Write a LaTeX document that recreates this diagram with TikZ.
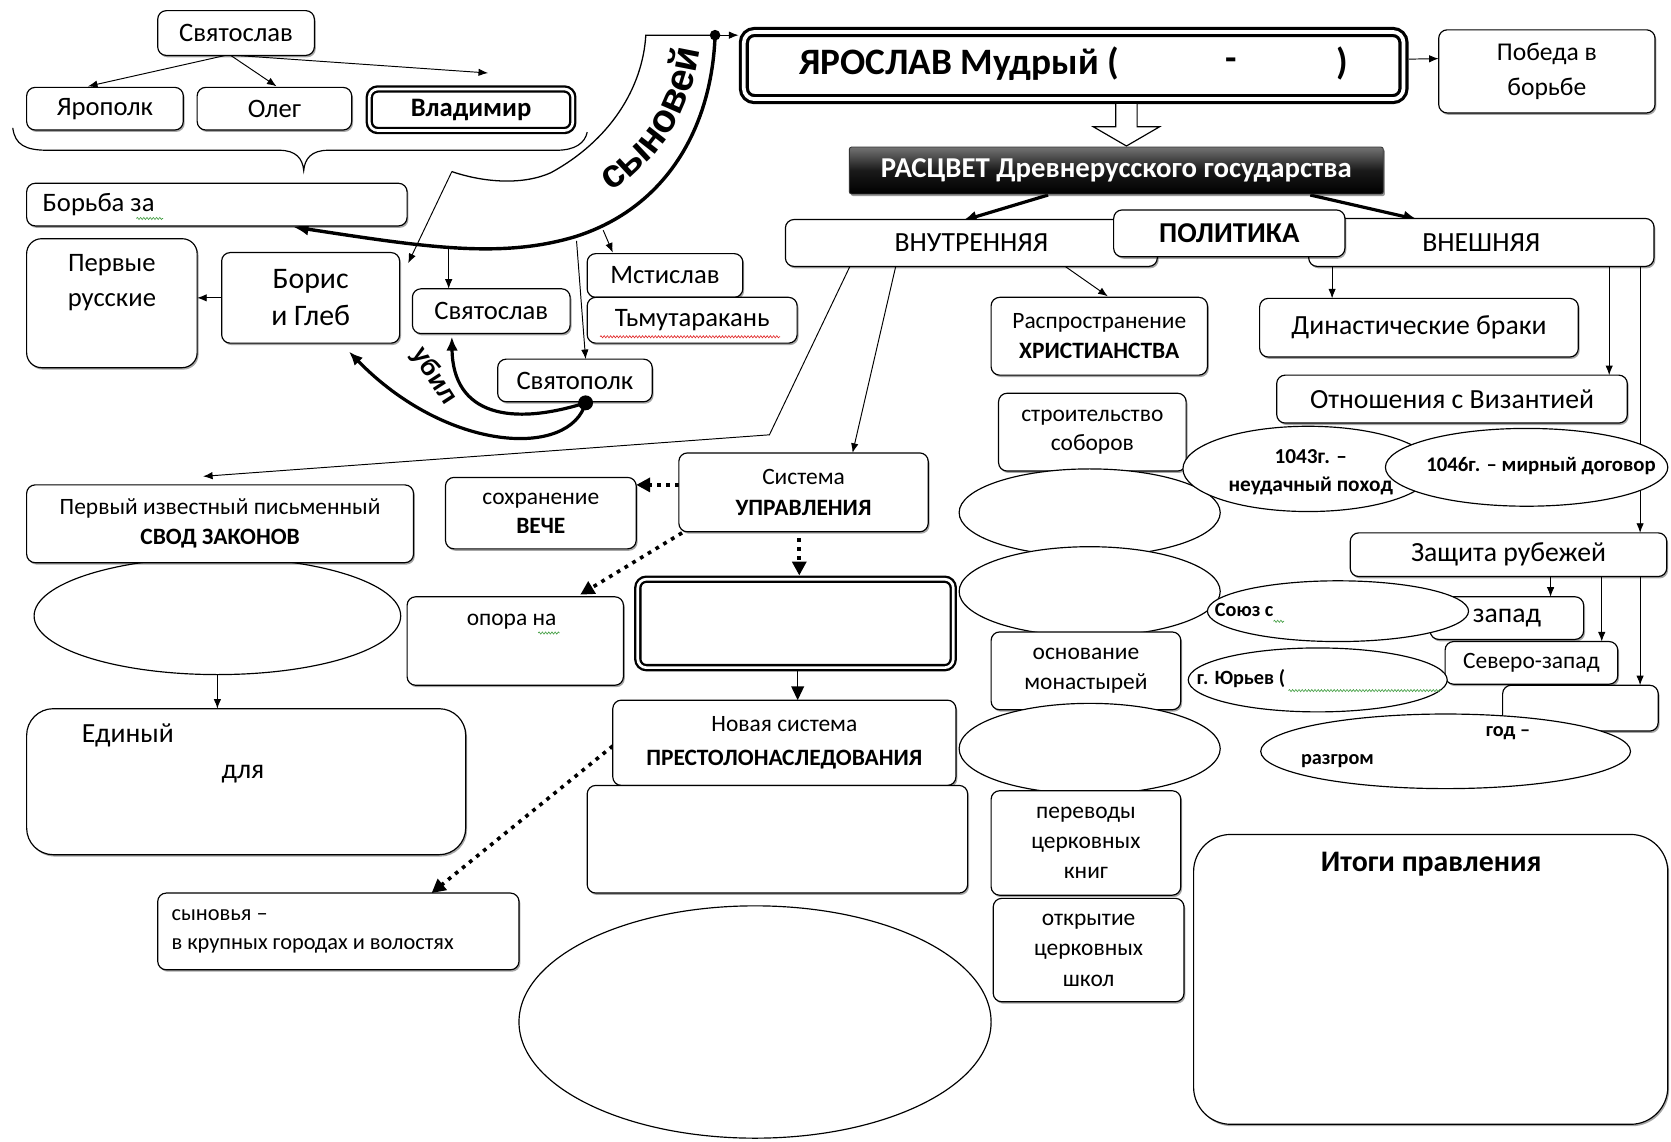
\documentclass[tikz,border=0pt]{standalone}
\usepackage{fontspec}
\setmainfont{Carlito}
\newfontfamily\arialf{Liberation Sans}
\usetikzlibrary{calc,arrows.meta,shapes.geometric,decorations.text,decorations.pathmorphing,shadows}
\pgfdeclarelayer{bg}
\pgfsetlayers{bg,main}
\newcommand\fs[2]{\fontsize{#1}{#2}\selectfont}
\definecolor{spg}{RGB}{70,160,70}
\definecolor{spr}{RGB}{225,40,40}
\newcommand\bx[6][]{\node[box,minimum width=#4pt,minimum height=#5pt,#1] (#2) at (#3) {#6};}
\newcommand\el[5][]{\node[ell,minimum width=#4pt,minimum height=#5pt,#1] (#2) at (#3) {};}
\begin{document}
\begin{tikzpicture}[x=1pt,y=-1pt,
  every node/.style={inner sep=0pt, outer sep=0pt},
  box/.style={draw, rounded corners=8pt, fill=white, line width=1.1pt, align=center, font=\fs{25}{30},
     drop shadow={shadow xshift=1.3pt, shadow yshift=-1.8pt, opacity=0.35, fill=black}},
  ell/.style={draw, ellipse, fill=white, line width=1.1pt},
  dbox/.style={draw, rounded corners=8pt, fill=white, line width=2.2pt, double=white, double distance=2.5pt},
  txt/.style={align=center},
  ar/.style={line width=0.9pt, -{Latex[length=9pt,width=7pt]}},
  thk/.style={line width=3pt, -{Latex[length=13pt,width=11pt]}},
  dotar/.style={line width=3.4pt, dash pattern=on 3.5pt off 5pt, -{Triangle[length=13pt,width=13pt]}},
  wavy/.style={line width=0.6pt, decorate, decoration={snake, amplitude=1pt, segment length=3pt}},
]
\useasboundingbox (0,0) rectangle (1568,1071);

% ---------- top-left family ----------
\bx{svyat1}{221.5,31}{147}{42}{Святослав}
\bx{yaropolk}{98.5,102}{147}{40}{Ярополк}
\bx{oleg}{257.5,102}{145}{40}{Олег}
\node[dbox, minimum width=191pt, minimum height=39pt, font=\fs{25}{30}\bfseries] (vladimir) at (442,103) {Владимир};
\bx{borba}{203.5,192}{357}{40}{}
\node[anchor=west, font=\fs{25}{30}] (tborba) at (40,192) {Борьба за};
\bx[rounded corners=14pt]{pervye}{105,284.5}{160}{121}{}
\node[txt, font=\fs{25}{33}] (tpervye) at (105,265) {Первые\\русские};
\bx[font=\fs{28}{35}]{boris}{291.5,279.5}{167}{85}{Борис\\и Глеб}
\bx{svyat2}{461,292}{148}{42}{Святослав}
\bx{mstislav}{624,258.5}{146}{41}{Мстислав}
\bx{tmu}{649.5,300.5}{197}{43}{Тьмутаракань}
\bx{svyatopolk}{539.5,357}{145}{40}{Святополк}

% ---------- Yaroslav ----------
\node[draw, rounded corners=10pt, fill=white, line width=3pt, double=white, double distance=3.5pt,
      minimum width=619pt, minimum height=63pt] (yaroslav) at (1007.5,61.5) {};
\node[anchor=west, font=\fs{35}{40}\bfseries] (tyar1) at (750,60) {ЯРОСЛАВ Мудрый (};
\node[font=\fs{35}{40}\bfseries] (tyar2) at (1155,60) {-};
\node[font=\fs{35}{40}\bfseries] (tyar3) at (1260,60) {)};
\bx[font=\fs{24}{33}]{pobeda}{1451.5,67}{203}{78}{Победа в\\борьбе}
\draw[line width=1.1pt, fill=white] (1047,97) -- (1067,97) -- (1067,119) -- (1088,119) -- (1057,137) -- (1026,119) -- (1047,119) -- cycle;
\node[draw=black!80, line width=0.8pt, rounded corners=2pt, top color=black!55, bottom color=black, middle color=black!90,
      minimum width=501pt, minimum height=44pt, font=\fs{27}{30}\bfseries, text=white,
      drop shadow={shadow xshift=1.5pt, shadow yshift=-2pt, opacity=0.4, fill=black}] (rascvet) at (1047.5,160)
      {РАСЦВЕТ Древнерусского государства};

% ---------- policy ----------
\bx[font=\fs{26}{30}]{vnutr}{911.5,228}{349}{44}{ВНУТРЕННЯЯ}
\bx[font=\fs{26}{30}]{vnesh}{1390,227.5}{324}{45}{ВНЕШНЯЯ}
\bx[font=\fs{27}{30}\bfseries]{politika}{1153.5,219}{217}{44}{ПОЛИТИКА}

% ---------- church column ----------
\bx[font=\fs{22}{28}]{hrist}{1031.5,315.5}{203}{73}{Распространение\\\bfseries ХРИСТИАНСТВА}
\bx[font=\fs{22}{28}]{stroit}{1025,405.5}{176}{73}{строительство\\соборов}
\el{ell1}{1022.5,481}{245}{82}
\el{ell2}{1022.5,555}{245}{84}
\bx[font=\fs{22}{28}]{osnov}{1019,629.5}{178}{73}{основание\\монастырей}
\el{ell3}{1022.5,702.5}{245}{85}
\bx[font=\fs{22}{28}]{perevody}{1019,791}{178}{98}{переводы\\церковных\\книг}
\bx[font=\fs{22}{28.5}]{shkol}{1021.5,891.5}{179}{97}{открытие\\церковных\\школ}

% ---------- foreign column ----------
\bx[font=\fs{26}{30}]{dinast}{1331.5,307.5}{299}{55}{Династические браки}
\bx[font=\fs{26}{30}]{vizant}{1362.5,374.5}{329}{45}{Отношения с Византией}
\el{e1043}{1227.5,440}{235}{80}
\node[txt, font=\fs{20}{26}\bfseries] (t1043) at (1230,443) {1043г. –\\неудачный поход};
\el{e1046}{1432.5,438.5}{265}{73}
\node[font=\fs{19.5}{24}\bfseries] (t1046) at (1446,437) {1046г. – мирный договор};
\bx[font=\fs{26}{30}]{zashita}{1415.5,520.5}{297}{41}{Защита рубежей}
\bx[font=\fs{26}{30}]{zapad}{1414,580}{144}{40}{запад}
\el{esoyuz}{1255.5,573.5}{245}{57}
\node[anchor=west, font=\fs{19}{24}\bfseries] (tsoyuz) at (1140,572) {Союз с};
\bx[font=\fs{22}{28}]{sevzap}{1437,622}{162}{40}{Северо-запад}
\el{eyuriev}{1236.5,638}{243}{60}
\node[anchor=west, font=\fs{19}{24}\bfseries] (tyuriev) at (1123,637) {г. Юрьев (};
\bx{blank}{1483,664.5}{146}{43}{}
\el{egod}{1356.5,705}{347}{70}
\node[font=\fs{19}{24}\bfseries] (tgod) at (1415,688) {год –};
\node[font=\fs{19}{24}\bfseries] (trazgrom) at (1255,714) {разгром};
\bx[rounded corners=35pt]{itogi}{1342.5,919}{445}{272}{}
\node[font=\fs{28}{32}\bfseries] (titogi) at (1343,811) {Итоги правления};

% ---------- left / middle ----------
\el{esvod}{204,578}{344}{110}
\bx[font=\fs{22}{28}]{svod}{206.5,491.5}{363}{73}{Первый известный письменный\\\bfseries СВОД ЗАКОНОВ}
\bx[rounded corners=25pt]{ediny}{231,733.5}{412}{137}{}
\node[font=\fs{26}{30}] (tediny) at (120,690) {Единый};
\node[font=\fs{26}{30}] (tdlya) at (228,726) {для};
\bx{synovya}{317.5,874}{339}{72}{}
\node[anchor=west, align=left, font=\fs{21}{28}] (tsynovya) at (161,874) {сыновья –\\в крупных городах и волостях};
\bx[font=\fs{22}{27}]{veche}{507.5,481.5}{179}{67}{сохранение\\\bfseries ВЕЧЕ}
\bx[font=\fs{22}{29}]{sistema}{754,462}{234}{74}{Система\\\bfseries УПРАВЛЕНИЯ}
\bx{opora}{483.5,601.5}{203}{83}{}
\node[font=\fs{22}{28}] (topora) at (480,583) {опора на};
\node[dbox, minimum width=296pt, minimum height=83pt] (dbl) at (746.5,585) {};
\bx[font=\fs{22}{32}]{novaya}{736,697}{322}{80}{Новая система\\\bfseries ПРЕСТОЛОНАСЛЕДОВАНИЯ}
\bx{blank2}{729.5,787.5}{357}{101}{}
\el{bigell}{708.5,959}{443}{218}

% ---------- brace, spelling marks, labels ----------
\draw[line width=1.1pt] (12,120) .. controls (14,136) and (24,141) .. (45,141) -- (262,141)
  .. controls (278,141) and (284,149) .. (285,160) .. controls (286,149) and (292,141) .. (308,141)
  -- (522,141) .. controls (540,141) and (549,134) .. (551,124);
\draw[wavy, spg] (128,205) -- (153,205);
\draw[wavy, spr] (563,316) -- (732,316);
\draw[wavy, spg] (505,594) -- (525,594);
\draw[wavy, spg] (1195,583) -- (1205,583);
\draw[wavy, spg] (1209,648) -- (1352,648);
\node[rotate=-57, font=\arialf\fs{24}{28}\bfseries] (ubil) at (407,353) {убил};
\path[decorate, decoration={text along path, text align=center,
   text={|\arialf\fs{37}{42}\bfseries|сыновей}}]
   (556,188) .. controls (611,163) and (654,108) .. (659,28);

% ---------- connectors ----------
\coordinate (dot) at (671,33);
\coordinate (notch) at (424,161);
\coordinate (b1) at (421,234);
\coordinate (b2) at (566,216);
\coordinate (b3) at (541,226);
\coordinate (kdot) at ($(svyatopolk.south)+(10,1)$);
\fill (dot) circle (5pt);
\fill (kdot) circle (7pt);
\begin{pgfonlayer}{bg}
\fill[white] (-1,-1) rectangle (1569,1072);
\draw[ar] ($(svyat1.south)+(-10,0)$) -- ($(yaropolk.north)+(-16,-1)$);
\draw[ar] ($(svyat1.south)+(-5,0)$) -- ($(oleg.north)+(2,-1)$);
\draw[ar] ($(svyat1.south)+(0,0)$) -- ($(vladimir.north)+(16,-15)$);
\draw[ar] (boris.west) -- (boris.west -| pervye.east);
\draw[line width=1.2pt] (dot) -- (606,33) .. controls (603,83) and (572,132) .. (517,162)
   .. controls (488,175) and (450,170) .. (notch);
\draw[ar] (notch) -- ($(boris.north east)+(8,10)$);
\draw[line width=3.2pt, -{Latex[length=14pt,width=12pt]}] (dot) .. controls (668,120) and (625,195) .. (540,222)
   .. controls (470,243) and (400,232) .. ($(borba.south)+(72,1)$);
\draw[ar] (b1) -- (b1 |- svyat2.north);
\draw[ar] (b2) -- ($(mstislav.north west)+(24,-1)$);
\draw[ar] (b3) -- ($(svyatopolk.north)+(10,0)$);
\draw[thk] (kdot) .. controls (480,400) and (425,390) .. ($(svyat2.south)+(-37,3)$);
\draw[thk] (kdot) .. controls (535,430) and (420,425) .. ($(boris.south)+(36,8)$);
\draw[ar] (dot) -- ($(dot -| yaroslav.west)+(-5,0)$);
\draw[ar] ($(yaroslav.east)+(5,-6)$) -- ($(pobeda.west)+(0,-12)$);
\draw[thk] ($(rascvet.south)+(-64,1)$) -- ($(vnutr.north)+(-8,1)$);
\draw[thk] ($(rascvet.south)+(182,1)$) -- ($(vnesh.north)+(-60,1)$);
\draw[ar] ($(vnutr.south)+(-114,0)$) -- (722,408) -- ($(svod.north)+(-16,-8)$);
\draw[ar] ($(vnutr.south)+(-71,0)$) -- ($(sistema.north)+(46,0)$);
\draw[ar] ($(vnutr.south)+(88,0)$) -- ($(hrist.north)+(8,-1)$);
\coordinate (v1) at ($(vnesh.south west)+(22,0)$);
\coordinate (v2) at ($(vnesh.south west)+(282,0)$);
\coordinate (v3) at ($(vnesh.south west)+(311,0)$);
\draw[ar] (v1) -- (v1 |- dinast.north);
\draw[ar] (v2) -- (v2 |- vizant.north);
\draw[ar] (v3) -- (v3 |- zashita.north);
\coordinate (z1) at ($(zashita.south west)+(188,0)$);
\coordinate (z2) at ($(zashita.south west)+(236,0)$);
\coordinate (z3) at ($(zashita.south west)+(272,0)$);
\draw[ar] (z1) -- (z1 |- zapad.north);
\draw[ar] (z2) -- (z2 |- sevzap.north);
\draw[ar] (z3) -- (z3 |- blank.north);
\draw[dotar] ($(sistema.west)+(0,-7)$) -- ($(veche.east)+(0,-26.5)$);
\draw[dotar] ($(sistema.south west)+(3,1)$) -- ($(opora.north)+(61,-2)$);
\coordinate (s1) at ($(sistema.south)+(-4,6)$);
\draw[dotar] (s1) -- ($(s1 |- dbl.north)+(0,-3.5)$);
\coordinate (d1) at ($(dbl.south)+(2,3.5)$);
\draw[line width=1.3pt, -{Triangle[length=13pt,width=12pt]}] (d1) -- (d1 |- novaya.north);
\draw[dotar] ($(novaya.west)+(0,3)$) -- ($(synovya.north)+(87.5,0)$);
\draw[ar] (esvod.south) -- (esvod.south |- ediny.north);
\end{pgfonlayer}
\end{tikzpicture}
\end{document}
